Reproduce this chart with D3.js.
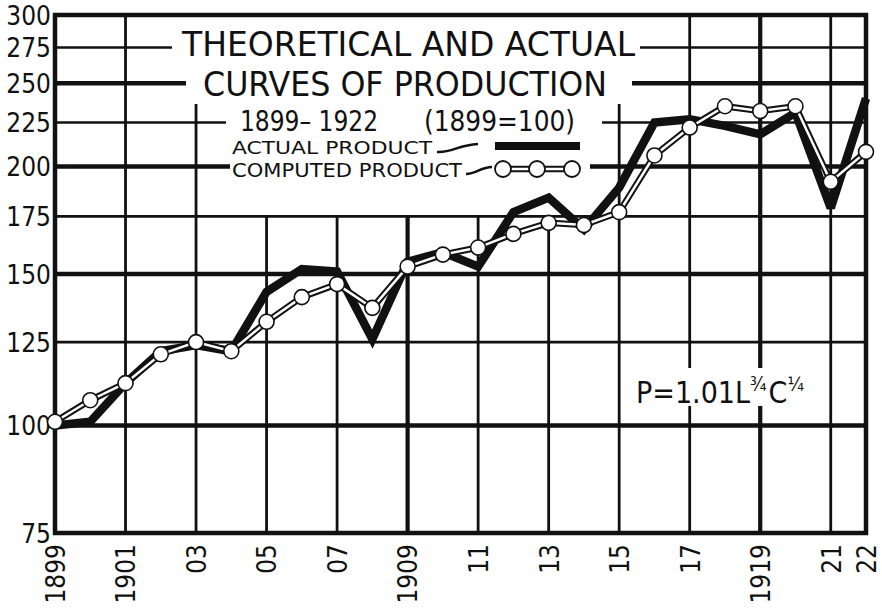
<!DOCTYPE html>
<html>
<head>
<meta charset="utf-8">
<script src="https://cdn.jsdelivr.net/npm/d3@7"></script>
<style>
  body { margin: 0; background: #fff; }
  text { font-family: "DejaVu Sans Condensed", "DejaVu Sans", sans-serif; fill: #111; }
</style>
</head>
<body>
<div id="chart"></div>
<script>
// Theoretical and actual curves of production, 1899-1922 (1899 = 100)

const width = 882;
const height = 610;
const plot = { left: 55, right: 866, top: 15, bottom: 533 };

// data
const years = [1899, 1900, 1901, 1902, 1903, 1904, 1905, 1906, 1907, 1908, 1909, 1910,
  1911, 1912, 1913, 1914, 1915, 1916, 1917, 1918, 1919, 1920, 1921, 1922];
const actual = [100, 101, 112, 122, 124, 122, 143, 152, 151, 126, 155, 159,
  153, 177, 184, 169, 189, 225, 227, 223, 218, 231, 179, 240];
const computed = [101, 107, 112, 121, 125, 122, 132, 141, 146, 137, 153, 158,
  161, 167, 172, 171, 177, 206, 222, 235, 232, 235, 192, 208];

// ticks
const yTicks = [75, 100, 125, 150, 175, 200, 225, 250, 275, 300];
const yThick = [100, 150, 200, 250];
const xTicks = [1899, 1901, 1903, 1905, 1907, 1909, 1911, 1913, 1915, 1917, 1919, 1921, 1922];
const xTickLabels = ['1899', '1901', '03', '05', '07', '1909', '11', '13', '15', '17', '1919', '21', '22'];
const xThick = [1909, 1919];

const svg = d3.select('#chart')
  .append('svg')
  .attr('width', width)
  .attr('height', height)
  .style('background', '#fff');

const x = d3.scaleLinear().domain([1899, 1922]).range([plot.left, plot.right]);
const y = d3.scaleLog().domain([75, 300]).range([plot.bottom, plot.top]);

// horizontal grid
svg.append('g').selectAll('line')
  .data(yTicks.filter(d => d > 75 && d < 300))
  .enter().append('line')
  .attr('x1', plot.left).attr('x2', plot.right)
  .attr('y1', d => y(d)).attr('y2', d => y(d))
  .attr('stroke', '#111')
  .attr('stroke-width', d => yThick.includes(d) ? 4.5 : 2.6);

// vertical grid
svg.append('g').selectAll('line')
  .data(xTicks.filter(d => d > 1899 && d < 1922))
  .enter().append('line')
  .attr('x1', d => x(d)).attr('x2', d => x(d))
  .attr('y1', plot.top).attr('y2', plot.bottom)
  .attr('stroke', '#111')
  .attr('stroke-width', d => xThick.includes(d) ? 4.2 : 2.8);

// blank out grid behind the title block and the formula
const masks = [
  [172, 17, 640, 66],
  [186, 66, 632, 104],
  [226, 104, 602, 140],
  [230, 140, 590, 215],
  [628, 368, 812, 406]
];
svg.append('g').selectAll('rect')
  .data(masks)
  .enter().append('rect')
  .attr('x', d => d[0]).attr('y', d => d[1])
  .attr('width', d => d[2] - d[0]).attr('height', d => d[3] - d[1])
  .attr('fill', '#fff');

// frame
svg.append('rect')
  .attr('x', plot.left).attr('y', plot.top)
  .attr('width', plot.right - plot.left)
  .attr('height', plot.bottom - plot.top)
  .attr('fill', 'none')
  .attr('stroke', '#111')
  .attr('stroke-width', 4.5);

// y axis labels
const yAxis = svg.append('g')
  .attr('transform', `translate(${plot.left - 2},0)`)
  .call(d3.axisLeft(y).tickValues(yTicks).tickFormat(d3.format('d')).tickSize(0).tickPadding(2));
yAxis.select('.domain').remove();
yAxis.selectAll('text')
  .style('font-family', '"DejaVu Sans Condensed", sans-serif')
  .style('font-size', '26px')
  .attr('fill', '#111')
  .attr('dy', '0.36em');

// x axis labels
const xAxis = svg.append('g')
  .attr('transform', `translate(0,${plot.bottom})`)
  .call(d3.axisBottom(x).tickValues(xTicks).tickFormat((d, i) => xTickLabels[i]).tickSize(0));
xAxis.select('.domain').remove();
xAxis.selectAll('text')
  .style('font-family', '"DejaVu Sans Condensed", sans-serif')
  .style('font-size', '26px')
  .attr('fill', '#111')
  .style('text-anchor', 'end')
  .attr('transform', 'rotate(-90)')
  .attr('x', -11)
  .attr('y', 0)
  .attr('dy', '0.36em');

// title block
const title = svg.append('g');
title.append('text').attr('x', 182).attr('y', 56)
  .attr('textLength', 453).attr('lengthAdjust', 'spacingAndGlyphs')
  .style('font-size', '34px')
  .text('THEORETICAL  AND  ACTUAL');
title.append('text').attr('x', 203).attr('y', 96)
  .attr('textLength', 404).attr('lengthAdjust', 'spacingAndGlyphs')
  .style('font-size', '34px')
  .text('CURVES  OF  PRODUCTION');
title.append('text').attr('x', 240).attr('y', 131)
  .attr('textLength', 138).attr('lengthAdjust', 'spacingAndGlyphs')
  .style('font-size', '28px')
  .text('1899– 1922');
title.append('text').attr('x', 424).attr('y', 131)
  .attr('textLength', 151).attr('lengthAdjust', 'spacingAndGlyphs')
  .style('font-size', '28px')
  .text('(1899=100)');
title.append('text').attr('x', 232).attr('y', 154)
  .attr('textLength', 200).attr('lengthAdjust', 'spacingAndGlyphs')
  .style('font-family', '"DejaVu Sans", sans-serif')
  .style('font-size', '17px')
  .text('ACTUAL PRODUCT');
title.append('text').attr('x', 232).attr('y', 177)
  .attr('textLength', 230).attr('lengthAdjust', 'spacingAndGlyphs')
  .style('font-family', '"DejaVu Sans", sans-serif')
  .style('font-size', '19px')
  .text('COMPUTED PRODUCT');

// legend connectors and keys
title.append('path')
  .attr('d', 'M437,152 C452,153 458,145 478,144')
  .attr('fill', 'none').attr('stroke', '#111').attr('stroke-width', 2.5);
title.append('path')
  .attr('d', 'M466,174 C476,174 481,167 492,167')
  .attr('fill', 'none').attr('stroke', '#111').attr('stroke-width', 2.5);
title.append('rect')
  .attr('x', 495).attr('y', 142).attr('width', 85).attr('height', 8)
  .attr('fill', '#111');
const keyPts = [503, 537, 572];
title.append('line').attr('x1', 503).attr('x2', 572).attr('y1', 169).attr('y2', 169)
  .attr('stroke', '#111').attr('stroke-width', 6.5);
title.append('line').attr('x1', 503).attr('x2', 572).attr('y1', 169).attr('y2', 169)
  .attr('stroke', '#fff').attr('stroke-width', 2.5);
title.selectAll('circle.key')
  .data(keyPts)
  .enter().append('circle')
  .attr('class', 'key')
  .attr('cx', d => d).attr('cy', 169).attr('r', 8)
  .attr('fill', '#fff').attr('stroke', '#111').attr('stroke-width', 1.8);

// formula
const formula = svg.append('text')
  .attr('x', 636).attr('y', 403)
  .style('font-size', '30px');
formula.append('tspan').text('P=1.01L');
formula.append('tspan').attr('dy', -12).style('font-size', '19px').text('¾');
formula.append('tspan').attr('dy', 12).attr('dx', 2).text('C');
formula.append('tspan').attr('dy', -12).style('font-size', '19px').text('¼');

// curves
const line = d3.line()
  .x((d, i) => x(years[i]))
  .y(d => y(d));

svg.append('path')
  .datum(actual)
  .attr('d', line)
  .attr('fill', 'none')
  .attr('stroke', '#111')
  .attr('stroke-width', 8.5)
  .attr('stroke-linejoin', 'miter')
  .attr('stroke-miterlimit', 3);

svg.append('path')
  .datum(computed)
  .attr('d', line)
  .attr('fill', 'none')
  .attr('stroke', '#111')
  .attr('stroke-width', 6.5);

svg.append('path')
  .datum(computed)
  .attr('d', line)
  .attr('fill', 'none')
  .attr('stroke', '#fff')
  .attr('stroke-width', 2.5);

svg.selectAll('.pt')
  .data(computed)
  .enter().append('circle')
  .attr('class', 'pt')
  .attr('cx', (d, i) => x(years[i]))
  .attr('cy', d => y(d))
  .attr('r', 7.5)
  .attr('fill', '#fff')
  .attr('stroke', '#111')
  .attr('stroke-width', 1.6);
</script>
</body>
</html>
